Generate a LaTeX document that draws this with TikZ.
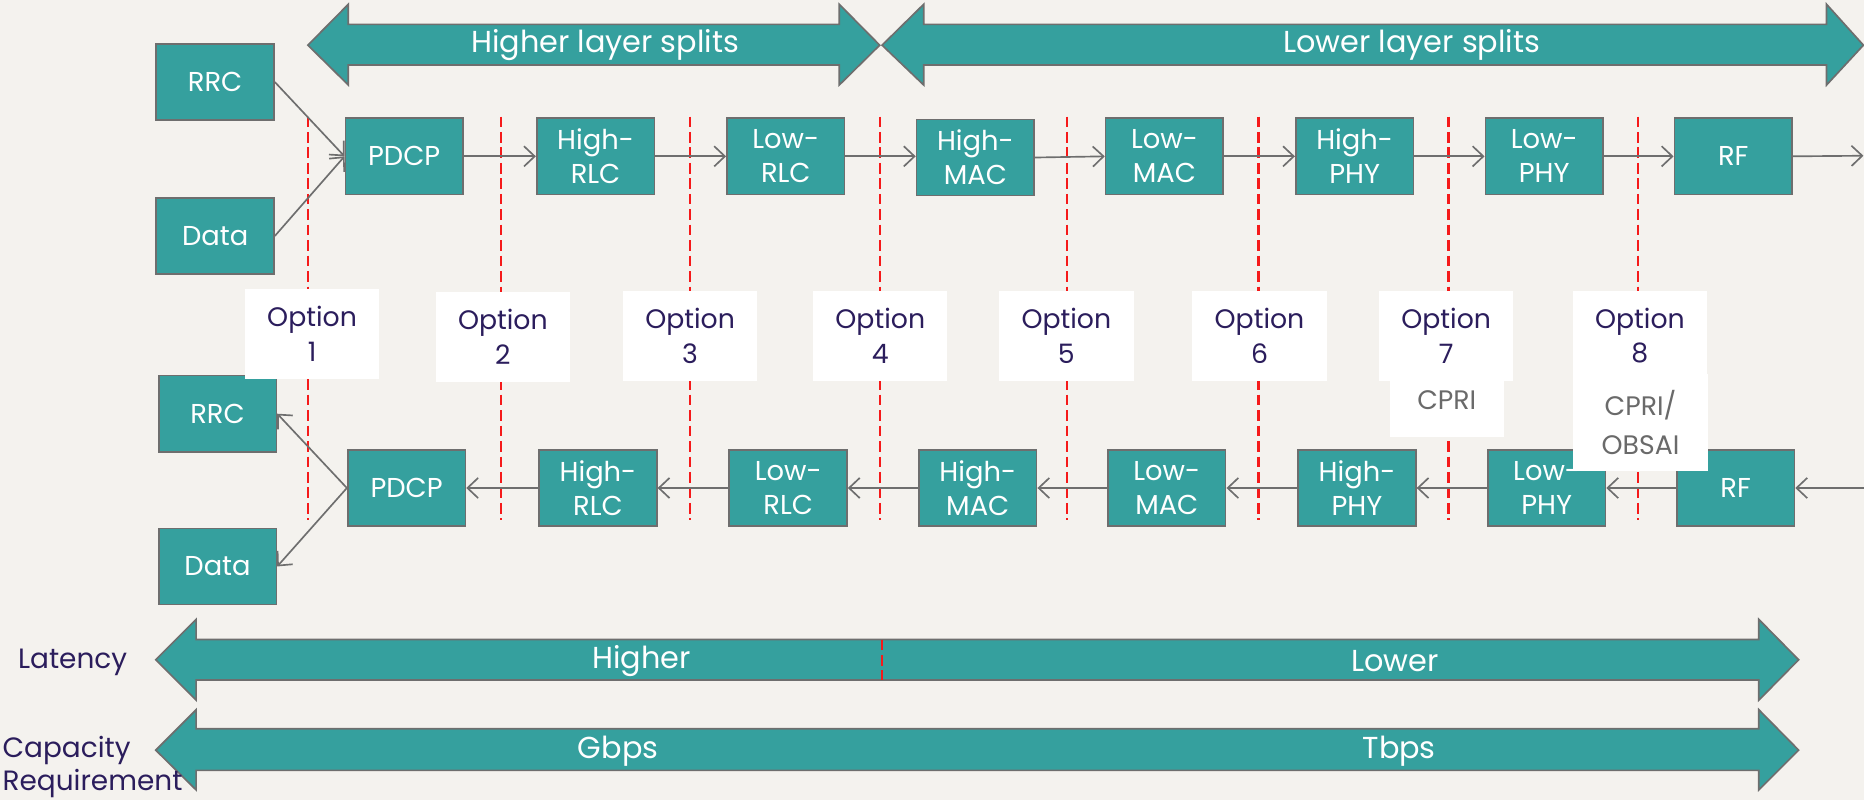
\documentclass[tikz,border=0pt]{standalone}
\usepackage{fontspec}
\setmainfont{Poppins}
\usetikzlibrary{arrows.meta}
\definecolor{bg}{HTML}{F4F2EE}
\definecolor{teal1}{HTML}{35A09E}
\definecolor{edgegray}{HTML}{6E6E6E}
\definecolor{ink}{HTML}{2B1D5C}
\definecolor{cprigray}{HTML}{6A6A6A}
\definecolor{splitred}{HTML}{F51A1A}
\begin{document}
\begin{tikzpicture}[x=1pt,y=-1pt,
  box/.style={draw=edgegray, line width=1.4pt, fill=teal1, text=white, minimum width=99pt, minimum height=64pt, inner sep=0pt, align=center, font=\fontsize{23}{28.5}\selectfont},
  optbox/.style={fill=white, inner sep=0pt, minimum width=113pt, minimum height=76pt, align=center, text=ink, font=\fontsize{22.5}{29}\selectfont},
  cpribox/.style={fill=white, inner sep=0pt, align=center, text=cprigray, font=\fontsize{22.5}{33}\selectfont},
  conn/.style={draw=edgegray, line width=1.4pt, -{Straight Barb[length=9pt,width=17pt,line width=1.4pt]}},
  split/.style={draw=splitred, line width=2pt, dash pattern=on 9pt off 4pt},
  bigarrow/.style={draw=edgegray, line width=1.4pt, fill=teal1, line join=miter},
  bigtext/.style={text=white, font=\fontsize{25.5}{30}\selectfont, inner sep=0pt},
  sidetext/.style={text=ink, font=\fontsize{23.5}{28}\selectfont, inner sep=0pt, align=left}
]
\fill[bg] (0,0) rectangle (1568,673);
\useasboundingbox (0,0) rectangle (1568,673);

% big arrows
\draw[bigarrow] (259,38) -- (293,3.6) -- (293,20.5) -- (706,20.5) -- (706,3.6) -- (740,38) -- (706,71.5) -- (706,54.7) -- (293,54.7) -- (293,71.5) -- cycle;
\draw[bigarrow] (742,38) -- (777,3.6) -- (777,20.5) -- (1536.5,20.5) -- (1536.5,3.6) -- (1567.5,38) -- (1536.5,71.5) -- (1536.5,54.7) -- (777,54.7) -- (777,71.5) -- cycle;
\node[bigtext] (hls) at (509,38) {Higher layer splits};
\node[bigtext] (lls) at (1187.5,38) {Lower layer splits};

\draw[bigarrow] (131,555) -- (165,521) -- (165,538) -- (1479.5,538) -- (1479.5,521) -- (1513,555) -- (1479.5,589) -- (1479.5,572) -- (165,572) -- (165,589) -- cycle;
\draw[bigarrow] (131,631) -- (165,597) -- (165,613) -- (1479.5,613) -- (1479.5,597) -- (1513,631) -- (1479.5,664.5) -- (1479.5,648) -- (165,648) -- (165,664.5) -- cycle;
\coordinate (latA) at (742,538);
\coordinate (latB) at (742,572);
\draw[split] (latA) -- (latB);
\node[bigtext] (higher) at (539.5,556) {Higher};
\node[bigtext] (lower) at (1173.5,556) {Lower};
\node[bigtext] (gbps) at (520,632) {Gbps};
\node[bigtext] (tbps) at (1177,632) {Tbps};
\node[sidetext, anchor=west] (lat) at (15,557) {Latency};
\node[sidetext, anchor=west] (cap) at (2,645) {Capacity\\Requirement};

% split lines
\foreach \i/\x in {1/259,2/421.5,3/580.5,4/740,5/897.5,6/1058.5,7/1218.5,8/1378}{
  \coordinate (s\i t) at (\x,98);
  \coordinate (s\i b) at (\x,437.5);
  \draw[split] (s\i t) -- (s\i b);
}

% top row
\node[box] (rrc1) at (181,69) {RRC};
\node[box] (data1) at (181,198.5) {Data};
\node[box] (pdcp1) at (340,131.5) {PDCP};
\node[box] (hrlc1) at (501,131.5) {High-\\RLC};
\node[box] (lrlc1) at (661,131.5) {Low-\\RLC};
\node[box] (hmac1) at (820.5,132.5) {High-\\MAC};
\node[box] (lmac1) at (979.5,131.5) {Low-\\MAC};
\node[box] (hphy1) at (1139.5,131.5) {High-\\PHY};
\node[box] (lphy1) at (1299,131.5) {Low-\\PHY};
\node[box] (rf1) at (1458,131.5) {RF};
\coordinate (out1) at (1567.5,131);

\draw[conn] (rrc1.east) -- (pdcp1.west);
\draw[conn] (data1.east) -- (pdcp1.west);
\draw[conn] (pdcp1.east) -- (hrlc1.west);
\draw[conn] (hrlc1.east) -- (lrlc1.west);
\draw[conn] (lrlc1.east) -- (hmac1.west |- lrlc1.east);
\draw[conn] (hmac1.east) -- (lmac1.west);
\draw[conn] (lmac1.east) -- (hphy1.west);
\draw[conn] (hphy1.east) -- (lphy1.west);
\draw[conn] (lphy1.east) -- (rf1.west);
\draw[conn] (rf1.east) -- (out1);

% bottom row
\node[box] (rrc2) at (183,348) {RRC};
\node[box] (data2) at (183,476.5) {Data};
\node[box] (pdcp2) at (342,410.5) {PDCP};
\node[box] (hrlc2) at (503,410.5) {High-\\RLC};
\node[box] (lrlc2) at (663,410.5) {Low-\\RLC};
\node[box] (hmac2) at (822.5,410.5) {High-\\MAC};
\node[box] (lmac2) at (981.5,410.5) {Low-\\MAC};
\node[box] (hphy2) at (1141.5,410.5) {High-\\PHY};
\node[box] (lphy2) at (1301,410.5) {Low-\\PHY};
\node[box] (rf2) at (1460,410.5) {RF};
\coordinate (in2) at (1568,410.5);

\draw[conn] (pdcp2.west) -- (rrc2.east);
\draw[conn] (pdcp2.west) -- (data2.east);
\draw[conn] (hrlc2.west) -- (pdcp2.east);
\draw[conn] (lrlc2.west) -- (hrlc2.east);
\draw[conn] (hmac2.west) -- (lrlc2.east);
\draw[conn] (lmac2.west) -- (hmac2.east);
\draw[conn] (hphy2.west) -- (lmac2.east);
\draw[conn] (lphy2.west) -- (hphy2.east);
\draw[conn] (rf2.west) -- (lphy2.east);
\draw[conn] (in2) -- (rf2.east);

% option labels
\node[optbox] (o1) at (262.5,281) {Option\\1};
\node[optbox] (o2) at (423,283.5) {Option\\2};
\node[optbox] (o3) at (580.5,282.5) {Option\\3};
\node[optbox] (o4) at (740.5,282.5) {Option\\4};
\node[optbox] (o5) at (897,282.5) {Option\\5};
\node[optbox] (o6) at (1059.5,282.5) {Option\\6};
\node[optbox] (o7) at (1216.5,282.5) {Option\\7};
\node[optbox] (o8) at (1379.5,282.5) {Option\\8};
\node[cpribox, minimum width=96pt, minimum height=48pt] (cpri) at (1217,344) {};
\node[cpribox] (cpritxt) at ([yshift=7pt]cpri.center) {CPRI};
\node[cpribox, minimum width=114pt, minimum height=81pt] (obsai) at (1380,355.5) {CPRI/\\OBSAI};
\end{tikzpicture}
\end{document}
